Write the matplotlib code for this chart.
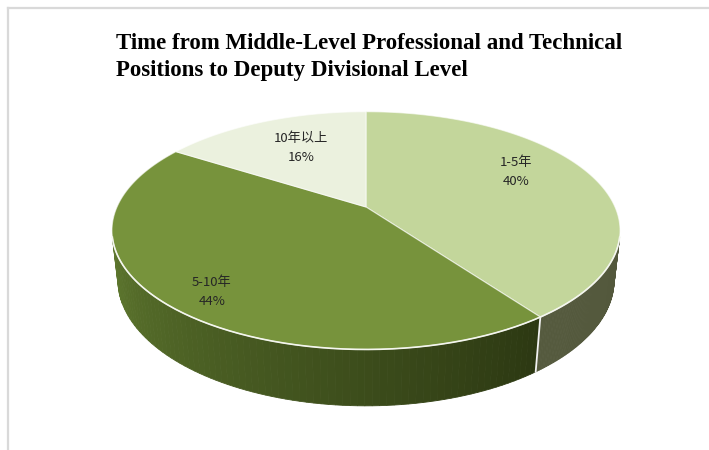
import numpy as np
import matplotlib.pyplot as plt
from matplotlib.patches import Polygon
from matplotlib.colors import to_rgb

plt.rcParams['font.family'] = ['Noto Sans CJK SC', 'DejaVu Sans']

labels = ['1-5年', '5-10年', '10年以上']
shares = [40, 44, 16]

top_colors = ['#c3d69b', '#77933c', '#ebf1de']
# side wall colours: (right end, left end)
side_colors = [('#4d5236', '#555a3e'), ('#2c3812', '#72913a'), ('#a9b393', '#c5cfae')]

# 3d view of the pie
elev = np.radians(27.3)
dist = 4.48
scale = 249
cx, cy = 366, 207
thick = 0.225

label_r = [0.66, 0.8, 0.6]
label_dy = [-13, 10, -5]


def project(x, y, z):
    d = dist + y * np.cos(elev) - z * np.sin(elev)
    sx = scale * x * dist / d
    sy = scale * (y * np.sin(elev) + z * np.cos(elev)) * dist / d
    return cx + sx, cy - sy


def rim(a0, a1, z, n=120):
    t = np.radians(np.linspace(a0, a1, n))
    return project(np.sin(t), np.cos(t), z)


fig = plt.figure(figsize=(7.09, 4.5), dpi=100)
ax = fig.add_axes([0, 0, 1, 1])
ax.set_xlim(0, 709)
ax.set_ylim(450, 0)
ax.axis('off')

bounds = np.concatenate([[0], np.cumsum(shares)]) / sum(shares) * 360
sil = np.degrees(np.arccos(-1 / (dist * np.cos(elev))))

# side walls, only the part facing the viewer
for i in range(len(shares)):
    a0, a1 = max(bounds[i], sil), min(bounds[i + 1], 360 - sil)
    if a0 >= a1:
        continue
    n = 80
    ang = np.linspace(a0, a1, n + 1)
    tx, ty = rim(a0, a1, 0, n + 1)
    bx, by = rim(a0, a1, -thick, n + 1)
    cr, cl = np.array(to_rgb(side_colors[i][0])), np.array(to_rgb(side_colors[i][1]))
    for k in range(n):
        f = ((ang[k] + ang[k + 1]) / 2 - bounds[i]) / (bounds[i + 1] - bounds[i])
        c = cr * (1 - f) + cl * f
        quad = [(tx[k], ty[k]), (tx[k + 1], ty[k + 1]), (bx[k + 1], by[k + 1]), (bx[k], by[k])]
        ax.add_patch(Polygon(quad, closed=True, facecolor=c, edgecolor=c, lw=0.6))

# white seams between side walls
for b in bounds[1:-1]:
    if sil < b < 360 - sil:
        x0, y0 = rim(b, b, 0, 1)
        x1, y1 = rim(b, b, -thick, 1)
        ax.plot([x0[0], x1[0]], [y0[0], y1[0]], color='#f2f2f2', lw=1.3)

# top faces
for i in range(len(shares)):
    x, y = rim(bounds[i], bounds[i + 1], 0)
    pts = [(cx, cy)] + list(zip(x, y))
    ax.add_patch(Polygon(pts, closed=True, facecolor=top_colors[i],
                         edgecolor=(1, 1, 1, 0.6), lw=0.8))

# highlight on the front rim
x, y = rim(sil, 360 - sil, 0, 200)
ax.plot(x, y, color='#f4f6ee', lw=1.2)

# data labels
for i in range(len(shares)):
    mid = np.radians((bounds[i] + bounds[i + 1]) / 2)
    r = label_r[i]
    lx, ly = project(r * np.sin(mid), r * np.cos(mid), 0)
    ax.text(lx, ly + label_dy[i], f'{labels[i]}\n{shares[i]}%', ha='center', va='center',
            fontsize=9.5, color='#262626', linespacing=1.6)

ax.text(116, 33, 'Time from Middle-Level Professional and Technical\nPositions to Deputy Divisional Level',
        ha='left', va='top', fontsize=16.5, fontweight='bold', family='Liberation Serif',
        color='black', linespacing=1.4)

# chart frame
ax.plot([8, 709], [8, 8], color='#d9d9d9', lw=1.6)
ax.plot([8, 8], [8, 450], color='#d9d9d9', lw=1.6)

fig.savefig('out.png', dpi=100, facecolor='white')
